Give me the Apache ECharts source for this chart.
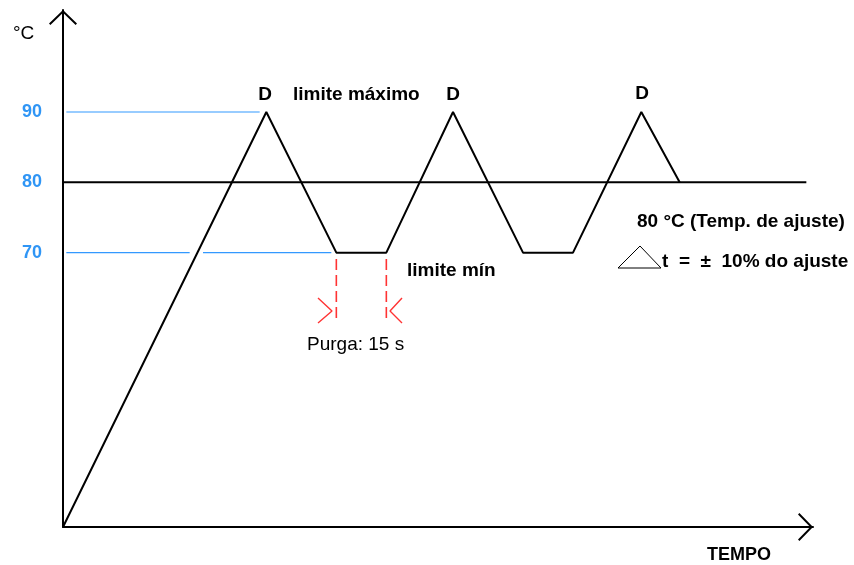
<!DOCTYPE html>
<html>
<head>
<meta charset="utf-8">
<script src="https://cdn.jsdelivr.net/npm/echarts@6/dist/echarts.min.js"></script>
<style>
html, body { margin: 0; padding: 0; background: #fff; }
#main { width: 854px; height: 565px; }
</style>
</head>
<body>
<div id="main"></div>
<script>
// perfil de temperatura (tempo em s, temperatura em °C)
var tempo = [0, 61, 82, 97, 117, 138, 153, 173.5, 185];
var temperatura = [31, 90, 70, 70, 90, 70, 70, 90, 80];
var tempAjuste = 80;
var limiteMax = 90;
var limiteMin = 70;
var yTicks = [70, 80, 90];
var purga = [82, 97];          // inicio / fim da purga (15 s)
var fimAjuste = 223;           // fim da linha de 80
var fimLimMax = 59;
var fimLimMin = 80.5;

function pares(xs, ys) {
    var out = [];
    for (var i = 0; i < xs.length; i++) out.push([xs[i], ys[i]]);
    return out;
}

var myChart = echarts.init(document.getElementById('main'));
var seta = 'path://M0,13.6 L14,0 L28,13.6 L26.6,15 L14,2.8 L1.4,15 Z';
var fonte = 'Liberation Sans, Arial, sans-serif';

function linha(data, color, width, type, z) {
    return {
        type: 'line',
        data: data,
        showSymbol: false,
        symbol: 'none',
        clip: false,
        z: z || 2,
        lineStyle: { color: color, width: width, type: type || 'solid' },
        silent: true
    };
}

var option = {
    animation: false,
    grid: { left: 63, right: 41, top: 10, bottom: 38 },
    xAxis: {
        type: 'value',
        min: 0,
        max: 225,
        axisLine: {
            lineStyle: { color: '#000', width: 2 },
            symbol: ['none', seta],
            symbolSize: [28, 15],
            symbolOffset: [0, -7.5]
        },
        axisTick: { show: false },
        axisLabel: { show: false },
        splitLine: { show: false }
    },
    yAxis: {
        type: 'value',
        min: 31,
        max: 104.5,
        axisLine: {
            show: true,
            lineStyle: { color: '#000', width: 2 },
            symbol: ['none', seta],
            symbolSize: [28, 15],
            symbolOffset: [0, -7.5]
        },
        axisTick: { show: false },
        splitLine: { show: false },
        axisLabel: {
            customValues: yTicks,
            color: '#2f95f5',
            fontWeight: 'bold',
            fontSize: 18,
            fontFamily: fonte,
            margin: 21
        }
    },
    series: [
        linha([[1, limiteMax], [fimLimMax, limiteMax]], '#3399ff', 1.2, 'solid', 1),
        linha([[1, limiteMin], [38, limiteMin]], '#3399ff', 1.2, 'solid', 1),
        linha([[42, limiteMin], [fimLimMin, limiteMin]], '#3399ff', 1.2, 'solid', 1),
        linha([[0, tempAjuste], [fimAjuste, tempAjuste]], '#000', 2, 'solid', 2),
        linha(pares(tempo, temperatura), '#000', 2, 'solid', 3),
        linha([[purga[0], 69.1], [purga[0], 60.7]], '#ff3333', 1.6, [11, 5], 2),
        linha([[purga[1], 69.1], [purga[1], 60.7]], '#ff3333', 1.6, [11, 5], 2),
        linha([[76.5, 63.56], [80.7, 61.7], [76.5, 60.0]], '#ff3333', 1.4, 'solid', 2),
        linha([[101.7, 63.56], [98.1, 61.7], [101.7, 60.0]], '#ff3333', 1.4, 'solid', 2)
    ],
    graphic: [
        { type: 'text', left: 13, top: 24, style: { text: '°C', font: '19px ' + fonte, fill: '#000' } },
        { type: 'text', x: 265, y: 95, style: { text: 'D', font: 'bold 19px ' + fonte, fill: '#000', align: 'center', verticalAlign: 'middle' } },
        { type: 'text', x: 453, y: 95, style: { text: 'D', font: 'bold 19px ' + fonte, fill: '#000', align: 'center', verticalAlign: 'middle' } },
        { type: 'text', x: 642, y: 94, style: { text: 'D', font: 'bold 19px ' + fonte, fill: '#000', align: 'center', verticalAlign: 'middle' } },
        { type: 'text', x: 293, y: 95, style: { text: 'limite máximo', font: 'bold 19px ' + fonte, fill: '#000', verticalAlign: 'middle' } },
        { type: 'text', x: 407, y: 271, style: { text: 'limite mín', font: 'bold 19px ' + fonte, fill: '#000', verticalAlign: 'middle' } },
        { type: 'text', x: 307, y: 345, style: { text: 'Purga: 15 s', font: '19px ' + fonte, fill: '#000', verticalAlign: 'middle' } },
        { type: 'text', x: 637, y: 222, style: { text: '80 °C (Temp. de ajuste)', font: 'bold 19px ' + fonte, fill: '#000', verticalAlign: 'middle' } },
        { type: 'polygon', shape: { points: [[618, 268], [640, 246], [661, 268]] }, style: { fill: 'none', stroke: '#000', lineWidth: 1 } },
        { type: 'text', x: 662, y: 262, style: { text: 't  =  ±  10% do ajuste', font: 'bold 19px ' + fonte, fill: '#000', verticalAlign: 'middle' } },
        { type: 'text', x: 739, y: 555, style: { text: 'TEMPO', font: 'bold 18px ' + fonte, fill: '#000', align: 'center', verticalAlign: 'middle' } }
    ]
};

myChart.setOption(option);
window.onresize = function () {
    myChart.resize();
};
</script>
</body>
</html>
